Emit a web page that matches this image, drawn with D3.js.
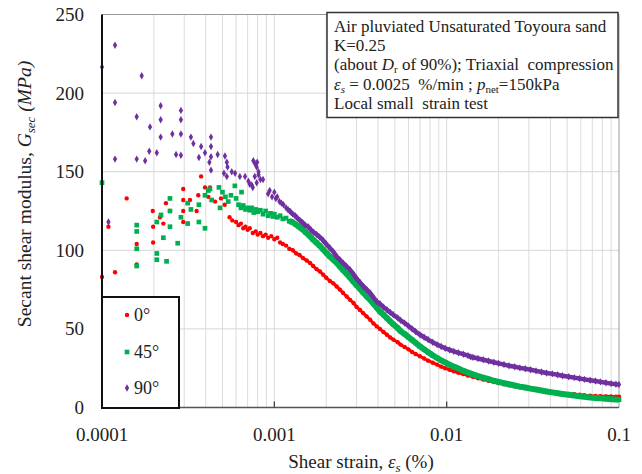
<!DOCTYPE html>
<html><head><meta charset="utf-8">
<script src="https://cdn.jsdelivr.net/npm/d3@7"></script>
<style>body{margin:0;background:#fff}svg{display:block}text{white-space:pre}</style>
</head><body>
<svg id="c" width="642" height="474"></svg>
<script>
// ---- data: [shear strain (%), secant shear modulus (MPa)] ----
const redScatter = [[0.0001,83],[0.000109,115],[0.000119,86],[0.000139,133],[0.000159,104],[0.000159,91],[0.000197,125],[0.000198,105],[0.000198,115],[0.000217,121],[0.000227,117],[0.000235,130],[0.000248,125],[0.000296,139],[0.000296,132],[0.000296,125],[0.000296,118],[0.000324,132],[0.000354,125],[0.000362,135],[0.000376,147],[0.000396,140],[0.000414,134],[0.000423,140],[0.000453,131],[0.00049,133],[0.000515,129]];
const redBand = [[0.00055,121],[0.00057,119],[0.0006,118],[0.00062,116],[0.00064,117],[0.00066,114],[0.00068,115],[0.0007,113],[0.00072,114],[0.00075,111],[0.00078,112],[0.0008,110],[0.00083,111],[0.00086,109],[0.00089,110],[0.00092,108],[0.00096,109],[0.001,107],[0.00104,108],[0.00108,105],[0.00112,104],[0.00117,103],[0.00122,101],[0.00128,100],[0.00134,98],[0.0014,97],[0.00147,95],[0.00154,93.5],[0.00161,92],[0.00168,90],[0.00176,88],[0.00184,86.5],[0.00192,84.5],[0.002,82.5],[0.0021,80.5],[0.0022,79],[0.0023,77],[0.0024,75],[0.0025,73],[0.00263,70.6],[0.00275,68.5],[0.00288,66.5],[0.003,64],[0.00314,62],[0.00328,60],[0.00343,58],[0.0036,55.8],[0.00376,53.5],[0.00393,51.6],[0.0041,50],[0.0043,48],[0.0045,46.3],[0.0047,44.5],[0.0049,43.2],[0.0052,41.5],[0.0054,40],[0.0057,38.5],[0.006,37],[0.0063,35.3],[0.0066,34],[0.007,32.6],[0.0074,31.2],[0.0078,29.8],[0.0083,28.5],[0.0088,27.3],[0.0093,26],[0.0098,25],[0.0104,24],[0.011,23],[0.0117,22.1],[0.0125,21.2],[0.0133,20.3],[0.0142,19.5],[0.0152,18.6],[0.0163,17.8],[0.0175,17],[0.0188,16.2],[0.02,15.5],[0.0215,14.8],[0.023,14.1],[0.0248,13.5],[0.0266,12.9],[0.0286,12.3],[0.0307,11.8],[0.033,11.3],[0.0355,10.8],[0.038,10.3],[0.041,9.9],[0.044,9.5],[0.047,9.1],[0.051,8.7],[0.055,8.4],[0.059,8.1],[0.063,7.8],[0.068,7.5],[0.073,7.3],[0.078,7.2],[0.084,7.1],[0.09,7],[0.096,6.9],[0.1,6.9]];

const greenScatter = [[0.0001,143],[0.000159,116],[0.000159,112],[0.000159,101],[0.000159,90],[0.000208,118],[0.000208,98],[0.000208,94],[0.000237,93],[0.000227,108],[0.000248,133],[0.000248,125],[0.00022,122.5],[0.000248,115],[0.000275,104.5],[0.000287,121],[0.000314,130],[0.000314,117],[0.000328,126],[0.000365,129],[0.000365,118],[0.000396,114],[0.000396,135],[0.000414,138],[0.000423,139],[0.000433,132],[0.000477,140],[0.000484,127],[0.0005,137],[0.00052,134],[0.00054,131],[0.00056,135],[0.00059,141],[0.000645,137],[0.0006,133]];
const greenBand = [[0.00062,129],[0.00064,127],[0.00066,128.5],[0.00068,126],[0.0007,127],[0.00072,125.5],[0.00074,127],[0.00076,124],[0.00078,126],[0.0008,124.5],[0.00083,125.5],[0.00086,123],[0.00089,125],[0.00092,122],[0.00095,123.5],[0.00098,121.5],[0.001,123],[0.00104,121],[0.00108,122],[0.00112,120],[0.00117,120.5],[0.00122,118.5],[0.00127,118],[0.00133,116.5],[0.00139,115],[0.00145,113.5],[0.00152,111.5],[0.00159,109.5],[0.00167,107],[0.00175,105],[0.00183,103],[0.00192,100.5],[0.00201,98.2],[0.0021,96],[0.0022,94],[0.0023,92],[0.0024,89.7],[0.0025,87.5],[0.00262,85.2],[0.00275,82.6],[0.00287,80.1],[0.003,77.8],[0.00314,75.5],[0.00328,73],[0.00344,70.6],[0.0036,68.5],[0.00376,66],[0.00393,63.5],[0.0041,61.1],[0.0043,59],[0.0045,56.9],[0.0047,54.8],[0.0049,53],[0.0052,50.5],[0.0054,48.6],[0.0057,46.8],[0.006,44.8],[0.0063,43],[0.0066,41.2],[0.007,38.9],[0.0074,37],[0.0078,35.2],[0.0083,33.2],[0.0088,31.5],[0.0093,30],[0.0098,28.7],[0.0104,27.2],[0.011,26],[0.0117,24.8],[0.0125,23.3],[0.0133,22.2],[0.0142,21.1],[0.0152,20],[0.0163,19],[0.0175,18],[0.0188,17],[0.02,16.3],[0.0215,15.5],[0.023,14.8],[0.0248,14],[0.0266,13.3],[0.0286,12.7],[0.0307,12],[0.033,11.4],[0.0355,10.8],[0.038,10.2],[0.041,9.6],[0.044,9.1],[0.047,8.6],[0.051,8.1],[0.055,7.6],[0.059,7.2],[0.063,6.8],[0.068,6.4],[0.073,6.1],[0.078,5.8],[0.084,5.5],[0.09,5.3],[0.096,5.1],[0.1,5]];

const purpleScatter = [[0.0001,216.6],[0.000119,230.5],[0.00017,211],[0.000119,194],[0.000119,158],[0.000109,118],[0.000159,185],[0.00019,178.5],[0.000219,192],[0.000219,183],[0.000219,172],[0.000256,174],[0.000287,189],[0.000287,183],[0.000287,174],[0.000159,158],[0.000178,157],[0.000188,163],[0.000208,162],[0.000269,161],[0.000287,160.5],[0.000328,172],[0.000339,168],[0.000376,166],[0.000429,172],[0.000429,166],[0.000396,162],[0.000365,159],[0.000429,159.5],[0.00042,156],[0.000429,151],[0.000469,161],[0.000517,160],[0.00053,156],[0.000535,153],[0.00051,149],[0.00053,147],[0.000566,150],[0.000592,149],[0.000631,147],[0.000676,147],[0.000707,144],[0.000739,141.5],[0.000773,155],[0.00079,153],[0.00081,150],[0.00077,147],[0.00081,148],[0.00083,145],[0.00086,145],[0.00079,143],[0.00075,140],[0.00072,142],[0.000755,157],[0.000795,156]];
const purpleBand = [[0.00092,136],[0.00094,138],[0.00097,134],[0.001,137],[0.00102,133],[0.00104,134],[0.00107,131],[0.0011,130],[0.00113,129],[0.00117,127],[0.0012,126],[0.00124,124.5],[0.00128,123],[0.00132,122],[0.00136,120.5],[0.00141,119],[0.00146,117.5],[0.00151,116],[0.00157,115],[0.00163,113],[0.00169,111.5],[0.00176,110],[0.00183,108.5],[0.00191,106.6],[0.002,104],[0.0021,101.5],[0.0022,99],[0.0023,96],[0.0024,94],[0.0025,92],[0.00262,89.8],[0.00275,87.6],[0.00288,84.8],[0.003,82],[0.00314,79.5],[0.00329,77],[0.00344,75],[0.0036,72.8],[0.00376,70],[0.00393,67.4],[0.0041,66],[0.0043,63.8],[0.0045,62.2],[0.0047,60.5],[0.0049,59],[0.0052,57],[0.0054,55.5],[0.0057,53.7],[0.006,51.8],[0.0063,50],[0.0066,48.3],[0.007,46.3],[0.0074,44.7],[0.0078,43.2],[0.0083,41.5],[0.0088,40],[0.0093,38.8],[0.0098,37.7],[0.0104,36.6],[0.011,35.7],[0.0117,34.8],[0.0125,33.9],[0.0133,33],[0.0138,32.2],[0.0142,32],[0.0152,31.2],[0.0163,30.4],[0.0175,29.6],[0.0188,28.8],[0.02,28.1],[0.0215,27.3],[0.023,26.6],[0.0248,25.9],[0.0266,25.2],[0.0286,24.6],[0.0307,24],[0.033,23.3],[0.0355,22.6],[0.038,22],[0.041,21.4],[0.044,20.8],[0.047,20.2],[0.051,19.6],[0.055,19],[0.059,18.4],[0.063,17.9],[0.068,17.3],[0.073,16.8],[0.078,16.3],[0.084,15.7],[0.09,15.2],[0.096,14.8],[0.1,14.6]];

const xTickValues = [0.0001, 0.001, 0.01, 0.1];
const xTickLabels = ["0.0001", "0.001", "0.01", "0.1"];
const yTickValues = [0, 50, 100, 150, 200, 250];
const legendLabels = ["0°", "45°", "90°"];

// ---- layout ----
const svg = d3.select("#c");
const L = 102, R = 619, T = 14.5, B = 407.5;
const x = d3.scaleLog().domain([0.0001, 0.1]).range([L, R]);
const y = d3.scaleLinear().domain([0, 250]).range([B, T]);
const font = "'Liberation Serif','Times New Roman',serif";

// gridlines
const minor = [];
[0.0001, 0.001, 0.01].forEach(d => { for (let k = 2; k <= 10; k++) minor.push(d * k); });
svg.append("g").selectAll("line").data(minor.filter(v => v < 0.099)).join("line")
  .attr("x1", d => x(d)).attr("x2", d => x(d)).attr("y1", T).attr("y2", B)
  .attr("stroke", "#dcdcdc").attr("stroke-width", 1);
svg.append("g").selectAll("line").data([50, 100, 150, 200]).join("line")
  .attr("x1", L).attr("x2", R).attr("y1", d => y(d)).attr("y2", d => y(d))
  .attr("stroke", "#d6d6d6").attr("stroke-width", 1);

// plot frame
svg.append("line").attr("x1", L).attr("x2", R).attr("y1", T).attr("y2", T).attr("stroke", "#9a9a9a");
svg.append("line").attr("x1", R).attr("x2", R).attr("y1", T).attr("y2", B).attr("stroke", "#9a9a9a");

// series
const colors = ["#ff0000", "#00b050", "#7030a0"];
const symbols = [d3.symbolCircle, d3.symbolSquare, d3.symbolDiamond];
const sizes = [15, 22, 16];
const bandWidths = [3, 6, 4.5];
const series = [
  {scatter: redScatter, band: redBand},
  {scatter: greenScatter, band: greenBand},
  {scatter: purpleScatter, band: purpleBand}
];
const line = d3.line().x(d => x(d[0])).y(d => y(d[1]));
const plotG = svg.append("g");
series.forEach((s, i) => {
  const g = plotG.append("g");
  const tail = s.band.filter(d => d[0] >= 0.0012);
  g.append("path").datum(tail).attr("d", line).attr("fill", "none")
    .attr("stroke", colors[i]).attr("stroke-width", bandWidths[i]).attr("stroke-linejoin", "round");
  const sym = d3.symbol().type(symbols[i]).size(sizes[i]);
  g.selectAll("path.pt").data(s.scatter.concat(s.band)).join("path").attr("class", "pt")
    .attr("d", sym).attr("transform", d => `translate(${x(d[0])},${y(d[1])})`)
    .attr("fill", colors[i]);
});

// axes
svg.append("line").attr("x1", L).attr("x2", R).attr("y1", B).attr("y2", B).attr("stroke", "#555").attr("stroke-width", 1.5);
svg.append("line").attr("x1", L).attr("x2", L).attr("y1", T).attr("y2", B + 0.75).attr("stroke", "#111").attr("stroke-width", 2);
svg.append("g").selectAll("line").data(xTickValues.slice(1, 3)).join("line")
  .attr("x1", d => x(d)).attr("x2", d => x(d)).attr("y1", B).attr("y2", B - 6)
  .attr("stroke", "#444").attr("stroke-width", 1.3);

svg.append("g").selectAll("text").data(xTickValues).join("text")
  .attr("x", d => x(d)).attr("y", 441).attr("text-anchor", "middle")
  .attr("font-family", font).attr("font-size", 19).attr("fill", "#222")
  .text((d, i) => xTickLabels[i]);
svg.append("g").selectAll("text").data(yTickValues).join("text")
  .attr("x", 84).attr("y", d => y(d) + 6.5).attr("text-anchor", "end")
  .attr("font-family", font).attr("font-size", 19).attr("fill", "#222")
  .text(d => d);

// axis titles
const xt = svg.append("text").attr("x", 361).attr("y", 468).attr("text-anchor", "middle")
  .attr("font-family", font).attr("font-size", 19).attr("fill", "#222");
xt.append("tspan").text("Shear strain, ");
xt.append("tspan").attr("font-style", "italic").text("ε");
xt.append("tspan").attr("font-style", "italic").attr("font-size", 13).attr("dy", 4).text("s");
xt.append("tspan").attr("dy", -4).text(" (%)");

const yt = svg.append("text").attr("transform", "translate(31,194) rotate(-90)").attr("text-anchor", "middle")
  .attr("font-family", font).attr("font-size", 19.5).attr("fill", "#222");
yt.append("tspan").text("Secant shear modulus, ");
yt.append("tspan").attr("font-style", "italic").text("G");
yt.append("tspan").attr("font-style", "italic").attr("font-size", 13).attr("dy", 4).text("sec");
yt.append("tspan").attr("dy", -4).attr("font-style", "italic").text(" (MPa)");

// annotation box
svg.append("rect").attr("x", 327).attr("y", 12.5).attr("width", 291).attr("height", 105)
  .attr("fill", "#fff").attr("stroke", "#333").attr("stroke-width", 1.5);
const ann = svg.append("g").attr("font-family", font).attr("font-size", 17).attr("fill", "#222");
const ax = 334;
ann.append("text").attr("x", ax).attr("y", 32).text("Air pluviated Unsaturated Toyoura sand");
ann.append("text").attr("x", ax).attr("y", 50.5).text("K=0.25");
const l3 = ann.append("text").attr("x", ax).attr("y", 70);
l3.append("tspan").text("(about ");
l3.append("tspan").attr("font-style", "italic").text("D");
l3.append("tspan").attr("font-size", 11).attr("dy", 3).text("r");
l3.append("tspan").attr("dy", -3).text(" of 90%); Triaxial  compression");
const l4 = ann.append("text").attr("x", ax).attr("y", 89.5);
l4.append("tspan").attr("font-style", "italic").text("ε");
l4.append("tspan").attr("font-style", "italic").attr("font-size", 11).attr("dy", 3).text("s");
l4.append("tspan").attr("dy", -3).text(" = 0.0025  %/min ; ");
l4.append("tspan").attr("font-style", "italic").text("p");
l4.append("tspan").attr("font-size", 11).attr("dy", 3).text("net");
l4.append("tspan").attr("dy", -3).text("=150kPa");
ann.append("text").attr("x", ax).attr("y", 109).text("Local small  strain test");

// legend
svg.append("rect").attr("x", 102).attr("y", 297).attr("width", 77).attr("height", 111)
  .attr("fill", "#fff").attr("stroke", "#111").attr("stroke-width", 2);
const ly = [315, 352, 388];
legendLabels.forEach((lab, i) => {
  svg.append("path").attr("d", d3.symbol().type(symbols[i]).size(sizes[i])())
    .attr("transform", `translate(127,${ly[i]})`).attr("fill", colors[i]);
  svg.append("text").attr("x", 134).attr("y", ly[i] + 6).attr("font-family", font)
    .attr("font-size", 18).attr("fill", "#222").text(lab);
});
</script>
</body></html>
